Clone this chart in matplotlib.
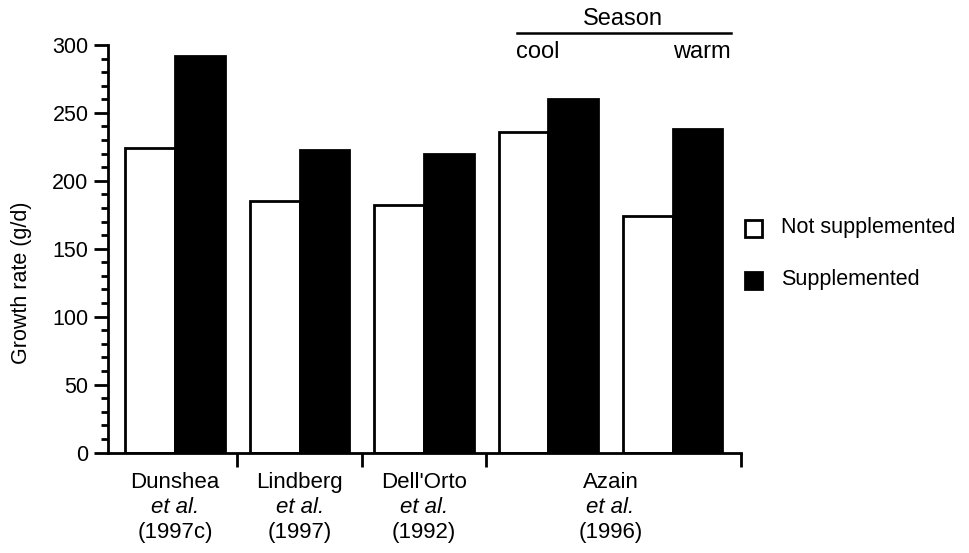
import numpy as np
import matplotlib.pyplot as plt
from matplotlib.patches import Rectangle

plt.rcParams['font.family'] = ['Liberation Sans', 'DejaVu Sans']

# Datos
names = ['Dunshea', 'Lindberg', "Dell'Orto", 'Azain']
years = ['(1997c)', '(1997)', '(1992)', '(1996)']
not_supp = [224, 185, 182, 236, 174]
supp = [292, 223, 220, 260, 238]
y_ticks = [0, 50, 100, 150, 200, 250, 300]

fig = plt.figure(figsize=(9.69, 5.53), dpi=100)
ax = fig.add_axes([0.1115, 0.1817, 0.6533, 0.737])

x = np.arange(len(not_supp))
w = 0.4
ax.bar(x - w / 2, not_supp, w, color='white', edgecolor='black', linewidth=2)
ax.bar(x + w / 2, supp, w, color='black', edgecolor='black', linewidth=2)

ax.set_xlim(-0.54, 4.55)
ax.set_ylim(0, 300)
ax.set_yticks(y_ticks)
ax.set_yticklabels([str(v) for v in y_ticks], fontsize=15.5)
ax.set_yticks(np.arange(0, 301, 10), minor=True)
ax.tick_params(axis='y', which='major', length=10, width=2, pad=4)
ax.tick_params(axis='y', which='minor', length=5, width=2)

# marcas de separación entre estudios
ax.set_xticks([0.5, 1.5, 2.5, 4.55])
ax.set_xticklabels([])
ax.tick_params(axis='x', length=10, width=2)

for s in ['top', 'right']:
    ax.spines[s].set_visible(False)
for s in ['left', 'bottom']:
    ax.spines[s].set_linewidth(2)

ax.set_ylabel('Growth rate (g/d)', fontsize=15.5)
ax.yaxis.set_label_coords(-0.12, 0.416)

# etiquetas de los grupos
centers = [0, 1, 2, 3.5]
tr = ax.get_xaxis_transform()
for c, n, yr in zip(centers, names, years):
    ax.text(c, -0.073, n, transform=tr, ha='center', va='center', fontsize=16)
    ax.text(c, -0.134, 'et al.', transform=tr, ha='center', va='center', fontsize=16, style='italic')
    ax.text(c, -0.197, yr, transform=tr, ha='center', va='center', fontsize=16)

# encabezado de estación
ax.plot([2.75, 4.465], [309, 309], color='black', linewidth=1.8, clip_on=False)
ax.text(3.603, 319, 'Season', ha='center', va='center', fontsize=17)
ax.text(2.74, 295, 'cool', ha='left', va='center', fontsize=17)
ax.text(4.47, 295, 'warm', ha='right', va='center', fontsize=17)

# leyenda manual
fig.patches.append(Rectangle((745 / 969, 1 - 237 / 553), 17 / 969, 17 / 553, transform=fig.transFigure,
                             facecolor='white', edgecolor='black', linewidth=2))
fig.patches.append(Rectangle((745 / 969, 1 - 289 / 553), 17 / 969, 17 / 553, transform=fig.transFigure,
                             facecolor='black', edgecolor='black', linewidth=2))
fig.text(781 / 969, 1 - 228 / 553, 'Not supplemented', ha='left', va='center', fontsize=15.5)
fig.text(781 / 969, 1 - 280 / 553, 'Supplemented', ha='left', va='center', fontsize=15.5)

fig.savefig('out.png', dpi=100)
